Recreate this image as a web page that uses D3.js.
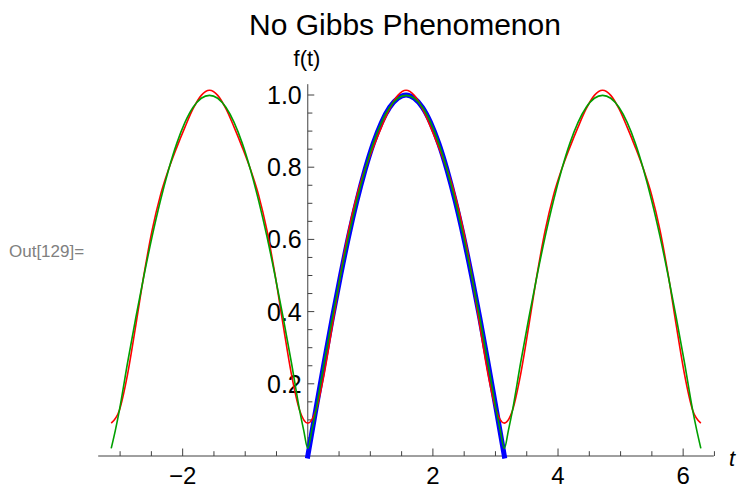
<!DOCTYPE html>
<html>
<head>
<meta charset="utf-8">
<script src="https://cdn.jsdelivr.net/npm/d3@7"></script>
<style>
  body { margin: 0; background: #fff; }
  text { font-family: "Liberation Sans", Arial, sans-serif; }
</style>
</head>
<body>
<div id="plot-container"></div>
<script>
// Sample points (t in radians)
const tGrid = [
  -3.142, -3.011, -2.880, -2.749, -2.618, -2.487, -2.356, -2.225, -2.094, -1.963, -1.833, -1.702,
  -1.571, -1.440, -1.309, -1.178, -1.047, -0.916, -0.785, -0.654, -0.524, -0.393, -0.262, -0.131,
  0, 0.131, 0.262, 0.393, 0.524, 0.654, 0.785, 0.916, 1.047, 1.178, 1.309, 1.440,
  1.571, 1.702, 1.833, 1.963, 2.094, 2.225, 2.356, 2.487, 2.618, 2.749, 2.880, 3.011,
  3.142, 3.273, 3.403, 3.534, 3.665, 3.796, 3.927, 4.058, 4.189, 4.320, 4.451, 4.581,
  4.712, 4.843, 4.974, 5.105, 5.236, 5.367, 5.498, 5.629, 5.760, 5.890, 6.021, 6.152, 6.283
];

// red: low-order approximation
const redValues = [
  0.091, 0.127, 0.227, 0.362, 0.503, 0.626, 0.722, 0.794, 0.855, 0.911, 0.962, 0.999,
  1.013, 0.999, 0.962, 0.911, 0.855, 0.794, 0.722, 0.626, 0.503, 0.362, 0.227, 0.127,
  0.091, 0.127, 0.227, 0.362, 0.503, 0.626, 0.722, 0.794, 0.855, 0.911, 0.962, 0.999,
  1.013, 0.999, 0.962, 0.911, 0.855, 0.794, 0.722, 0.626, 0.503, 0.362, 0.227, 0.127,
  0.091, 0.127, 0.227, 0.362, 0.503, 0.626, 0.722, 0.794, 0.855, 0.911, 0.962, 0.999,
  1.013, 0.999, 0.962, 0.911, 0.855, 0.794, 0.722, 0.626, 0.503, 0.362, 0.227, 0.127, 0.091
];

// green: higher-order approximation (extra points near the cusps)
const greenT = [
  -3.142, -3.076, -3.011, -2.880, -2.749, -2.618, -2.487, -2.356, -2.225, -2.094, -1.963, -1.833,
  -1.702, -1.571, -1.440, -1.309, -1.178, -1.047, -0.916, -0.785, -0.654, -0.524, -0.393, -0.262,
  -0.131, -0.065, 0,
  0.065, 0.131, 0.262, 0.393, 0.524, 0.654, 0.785, 0.916, 1.047, 1.178, 1.309, 1.440, 1.571,
  1.702, 1.833, 1.963, 2.094, 2.225, 2.356, 2.487, 2.618, 2.749, 2.880, 3.011, 3.076, 3.142,
  3.207, 3.273, 3.403, 3.534, 3.665, 3.796, 3.927, 4.058, 4.189, 4.320, 4.451, 4.581, 4.712,
  4.843, 4.974, 5.105, 5.236, 5.367, 5.498, 5.629, 5.760, 5.890, 6.021, 6.152, 6.218, 6.283
];
const greenValues = [
  0.021, 0.071, 0.127, 0.259, 0.383, 0.500, 0.609, 0.707, 0.793, 0.866, 0.924, 0.966,
  0.991, 0.999, 0.991, 0.966, 0.924, 0.866, 0.793, 0.707, 0.609, 0.500, 0.383, 0.259,
  0.127, 0.071, 0.021,
  0.071, 0.127, 0.259, 0.383, 0.500, 0.609, 0.707, 0.793, 0.866, 0.924, 0.966, 0.991, 0.999,
  0.991, 0.966, 0.924, 0.866, 0.793, 0.707, 0.609, 0.500, 0.383, 0.259, 0.127, 0.071, 0.021,
  0.071, 0.127, 0.259, 0.383, 0.500, 0.609, 0.707, 0.793, 0.866, 0.924, 0.966, 0.991, 0.999,
  0.991, 0.966, 0.924, 0.866, 0.793, 0.707, 0.609, 0.500, 0.383, 0.259, 0.127, 0.071, 0.021
];

// blue: the function itself on [0, pi]
const blueT = tGrid.slice(24, 49);
const blueValues = [
  0, 0.131, 0.259, 0.383, 0.500, 0.609, 0.707, 0.793, 0.866, 0.924, 0.966, 0.991,
  1.000, 0.991, 0.966, 0.924, 0.866, 0.793, 0.707, 0.609, 0.500, 0.383, 0.259, 0.131, 0
];

const xTickLabels = [-2, 2, 4, 6];
const yTickLabels = [0.2, 0.4, 0.6, 0.8, 1.0];

const width = 739, height = 485;

const svg = d3.select("#plot-container")
    .append("svg")
    .attr("width", width)
    .attr("height", height);

const x = d3.scaleLinear().domain([-3.35, 6.49]).range([98.2, 713.8]);
const y = d3.scaleLinear().domain([0, 1]).range([456, 95]);
const axisColor = "#404040";

// title and labels
svg.append("text")
    .attr("x", 405).attr("y", 35)
    .attr("text-anchor", "middle")
    .style("font-size", "30px")
    .text("No Gibbs Phenomenon");

svg.append("text")
    .attr("x", 307).attr("y", 66)
    .attr("text-anchor", "middle")
    .style("font-size", "22px")
    .text("f(t)");

svg.append("text")
    .attr("x", 9).attr("y", 257)
    .style("font-size", "17px")
    .attr("fill", "#808080")
    .text("Out[129]=");

svg.append("text")
    .attr("x", 729).attr("y", 466)
    .style("font-size", "22px")
    .style("font-style", "italic")
    .text("t");

// x axis
const xAxis = svg.append("g");
xAxis.append("line")
    .attr("x1", x.range()[0]).attr("x2", x.range()[1])
    .attr("y1", y(0)).attr("y2", y(0))
    .attr("stroke", axisColor);
const xTicks = d3.range(-3, 6.51, 0.5);
xAxis.selectAll(".xt")
    .data(xTicks)
    .enter().append("line")
    .attr("x1", d => x(d)).attr("x2", d => x(d))
    .attr("y1", y(0))
    .attr("y2", d => y(0) - (d % 2 === 0 ? 7.5 : 4.8))
    .attr("stroke", axisColor);
xAxis.selectAll(".xl")
    .data(xTickLabels)
    .enter().append("text")
    .attr("x", d => x(d)).attr("y", 484)
    .attr("text-anchor", "middle")
    .style("font-size", "24px")
    .text(d => d < 0 ? "\u2212" + Math.abs(d) : d);

// y axis
const yAxis = svg.append("g");
yAxis.append("line")
    .attr("x1", x(0)).attr("x2", x(0))
    .attr("y1", y(0)).attr("y2", y(1.03))
    .attr("stroke", axisColor);
const yTicks = d3.range(1, 21).map(i => i * 0.05);
yAxis.selectAll(".yt")
    .data(yTicks)
    .enter().append("line")
    .attr("x1", x(0))
    .attr("x2", (d, i) => x(0) + ((i + 1) % 4 === 0 ? 6.5 : 4.6))
    .attr("y1", d => y(d)).attr("y2", d => y(d))
    .attr("stroke", axisColor);
yAxis.selectAll(".yl")
    .data(yTickLabels)
    .enter().append("text")
    .attr("x", x(0) - 6)
    .attr("y", d => y(d) + 9)
    .attr("text-anchor", "end")
    .style("font-size", "25px")
    .text(d => d.toFixed(1));

// curves
const line = d3.line()
    .x(d => x(d[0]))
    .y(d => y(d[1]))
    .curve(d3.curveMonotoneX);

svg.append("path")
    .attr("d", line(d3.zip(blueT, blueValues)))
    .attr("fill", "none")
    .attr("stroke", "#0000ff")
    .attr("stroke-width", 5)
    .attr("stroke-linecap", "square");

svg.append("path")
    .attr("d", line(d3.zip(tGrid, redValues)))
    .attr("fill", "none")
    .attr("stroke", "#ff0000")
    .attr("stroke-width", 1.6);

svg.append("path")
    .attr("d", line(d3.zip(greenT, greenValues)))
    .attr("fill", "none")
    .attr("stroke", "#00a000")
    .attr("stroke-width", 1.6);
</script>
</body>
</html>
